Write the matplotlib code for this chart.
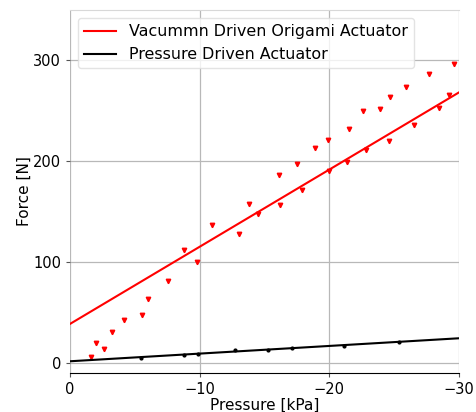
import matplotlib
matplotlib.use("Agg")
import matplotlib.pyplot as plt
import numpy as np

# vacuum driven origami actuator (red triangles)
vac_pressure = [-1.6, -2.0, -2.65, -3.26, -4.16, -5.53, -6.01, -7.56, -8.81, -9.82,
                -10.95, -13.0, -13.8, -14.5, -16.1, -16.2, -17.5, -17.9, -18.9, -19.9,
                -20.0, -21.5, -21.4, -22.6, -22.8, -23.9, -24.7, -24.6, -25.9, -26.5,
                -27.7, -28.5, -29.2, -29.6]
vac_force = [6, 20, 14, 31, 42, 47, 63, 81, 112, 100,
             137, 128, 157, 148, 186, 156, 197, 171, 213, 221,
             190, 232, 199, 250, 211, 252, 264, 220, 274, 236,
             286, 253, 266, 296]
vac_fit = [-7.65, 38.6]   # slope, intercept

# pressure driven actuator (black dots)
pres_pressure = [-5.47, -8.8, -9.9, -12.7, -15.3, -17.1, -21.1, -25.4]
pres_force = [5.0, 7.6, 9.2, 12.2, 12.5, 14.5, 17.1, 20.5]
pres_fit = [-0.76, 1.5]

x_line = np.array([0, -30])

fig = plt.figure(figsize=(4.77, 4.12), dpi=100)
ax = fig.add_axes([0.147, 0.095, 0.815, 0.881])

ax.plot(x_line, np.polyval(vac_fit, x_line), color="red", lw=1.5,
        label="Vacummn Driven Origami Actuator")
ax.plot(vac_pressure, vac_force, "v", color="red", ms=3.2, ls="none")
ax.plot(x_line, np.polyval(pres_fit, x_line), color="black", lw=1.5,
        label="Pressure Driven Actuator")
ax.plot(pres_pressure, pres_force, ".", color="black", ms=4, ls="none")

ax.set_xlim(0, -30)
ax.set_ylim(-10, 350)
ax.set_xticks([0, -10, -20, -30])
ax.set_yticks([0, 100, 200, 300])
ax.grid(True, color="#b8b8b8", lw=0.9)
ax.set_axisbelow(True)
for s in ["left", "right"]:
    ax.spines[s].set_visible(False)
ax.spines["top"].set_color("#d8d8d8")
ax.spines["bottom"].set_color("black")
ax.tick_params(labelsize=10.5, length=3, width=0.8, color="#555555")

ax.set_xlabel("Pressure [kPa]", fontsize=11, labelpad=1)
ax.set_ylabel("Force [N]", fontsize=11, labelpad=1)
ax.legend(loc="upper left", fontsize=11.4, framealpha=0.8, edgecolor="#dddddd",
          handlelength=2, borderaxespad=0.5)

fig.savefig("out.png", dpi=100)
